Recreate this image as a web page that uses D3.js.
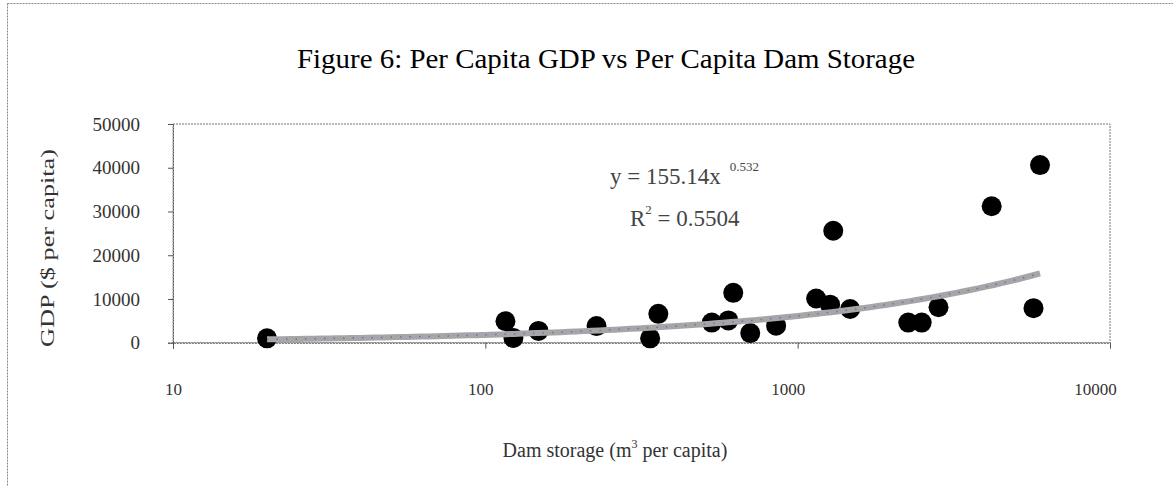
<!DOCTYPE html>
<html>
<head>
<meta charset="utf-8">
<script src="https://d3js.org/d3.v7.min.js"></script>
<style>
	body { margin: 0; background: #fff; }
	text { font-family: "Liberation Serif", "Times New Roman", serif; }
</style>
</head>
<body>
<script>

	// dam storage (m3 per capita) and GDP ($ per capita)
	var storage = [20, 116, 123, 148, 227, 337, 358, 531, 600, 622, 705, 853,
		1146, 1270, 1300, 1472, 2260, 2495, 2825, 4180, 5690, 5970];
	var gdp = [1000, 4900, 1100, 2700, 3800, 1000, 6600, 4600, 5100, 11400, 2200, 3900,
		10100, 8700, 25600, 7700, 4600, 4600, 8100, 31200, 7900, 40600];

	var xTicks = [10, 100, 1000, 10000];
	var yTicks = [0, 10000, 20000, 30000, 40000, 50000];

	// power trend y = a * x^b
	var trendA = 155.14;
	var trendB = 0.532;
	var r2 = "0.5504";

	var w = 1173, h = 486;
	var svg = d3.select("body").append("svg")
		.attr("width", w)
		.attr("height", h);

	// outer chart border
	svg.append("rect")
		.attr("x", 7.5).attr("y", 3.5)
		.attr("width", w + 20).attr("height", h + 20)
		.attr("fill", "none")
		.attr("stroke", "#888")
		.attr("stroke-dasharray", "2,1");

	var xScale = d3.scaleLog().domain([10, 10000]).range([173, 1110]);
	var yScale = d3.scaleLinear().domain([0, 50000]).range([342.7, 124]);

	// plot area border
	svg.append("rect")
		.attr("x", xScale(10)).attr("y", yScale(50000))
		.attr("width", xScale(10000) - xScale(10))
		.attr("height", yScale(0) - yScale(50000))
		.attr("fill", "none")
		.attr("stroke", "#777")
		.attr("stroke-dasharray", "2,1");

	svg.append("text")
		.attr("x", 606).attr("y", 68)
		.attr("text-anchor", "middle")
		.attr("font-size", 27)
		.attr("textLength", 618)
		.attr("lengthAdjust", "spacingAndGlyphs")
		.text("Figure 6: Per Capita GDP vs Per Capita Dam Storage");

	// y axis
	var yAxis = d3.axisLeft(yScale).tickValues(yTicks).tickSize(5).tickPadding(28)
		.tickFormat(d3.format("d"));
	var gy = svg.append("g").attr("transform", "translate(" + xScale(10) + ",0)").call(yAxis);
	gy.select(".domain").attr("stroke", "#555").attr("stroke-dasharray", "2,1");
	gy.selectAll(".tick line").attr("stroke", "#555");
	gy.selectAll(".tick text").attr("font-size", 19).attr("fill", "#333")
		.attr("font-family", "Liberation Serif");

	// x axis
	var xAxis = d3.axisBottom(xScale).tickValues(xTicks).tickSize(6).tickPadding(34)
		.tickFormat(d3.format("d"));
	var gx = svg.append("g").attr("transform", "translate(0," + yScale(0) + ")").call(xAxis);
	gx.select(".domain").attr("stroke", "#555").attr("stroke-dasharray", "2,1");
	gx.selectAll(".tick line").attr("stroke", "#555");
	gx.selectAll(".tick text").attr("font-size", 17).attr("fill", "#333")
		.attr("font-family", "Liberation Serif")
		.attr("dx", function(d) { return -(String(d).length - 2) * 5; });

	// axis titles
	svg.append("text")
		.attr("transform", "translate(54,248) rotate(-90)")
		.attr("text-anchor", "middle")
		.attr("font-size", 19)
		.attr("textLength", 198)
		.attr("lengthAdjust", "spacingAndGlyphs")
		.attr("fill", "#333")
		.text("GDP ($ per capita)");

	var xt = svg.append("text")
		.attr("x", 615).attr("y", 457)
		.attr("text-anchor", "middle")
		.attr("font-size", 20)
		.attr("fill", "#333");
	xt.append("tspan").text("Dam storage (m");
	xt.append("tspan").attr("dy", -9).attr("font-size", 12).text("3");
	xt.append("tspan").attr("dy", 9).text(" per capita)");

	// trend line
	var xs = d3.range(0, 101).map(function(i) {
		var lo = Math.log10(d3.min(storage)), hi = Math.log10(d3.max(storage));
		return Math.pow(10, lo + (hi - lo) * i / 100);
	});
	var line = d3.line()
		.x(function(d) { return xScale(d); })
		.y(function(d) { return yScale(trendA * Math.pow(d, trendB)); });

	// points
	svg.selectAll("circle.pt")
		.data(d3.zip(storage, gdp))
		.enter()
		.append("circle")
		.attr("class", "pt")
		.attr("cx", function(d) { return xScale(d[0]); })
		.attr("cy", function(d) { return yScale(d[1]); })
		.attr("r", 10)
		.attr("fill", "#000");

	svg.append("path")
		.datum(xs)
		.attr("d", line)
		.attr("fill", "none")
		.attr("stroke", "#a6a6a6")
		.attr("stroke-width", 6);
	svg.append("path")
		.datum(xs)
		.attr("d", line)
		.attr("fill", "none")
		.attr("stroke", "#6a6ad0")
		.attr("stroke-width", 1.5)
		.attr("stroke-dasharray", "1.5,8");

	// equation
	var eq = svg.append("text")
		.attr("x", 610).attr("y", 184)
		.attr("font-size", 23)
		.attr("fill", "#444");
	eq.append("tspan").text("y = " + trendA + "x");
	eq.append("tspan").attr("dx", 9).attr("dy", -13).attr("font-size", 13).text(String(trendB));

	var rq = svg.append("text")
		.attr("x", 630).attr("y", 226)
		.attr("font-size", 23)
		.attr("fill", "#444");
	rq.append("tspan").text("R");
	rq.append("tspan").attr("dy", -12).attr("font-size", 13).text("2");
	rq.append("tspan").attr("dy", 12).text(" = " + r2);

</script>
</body>
</html>
